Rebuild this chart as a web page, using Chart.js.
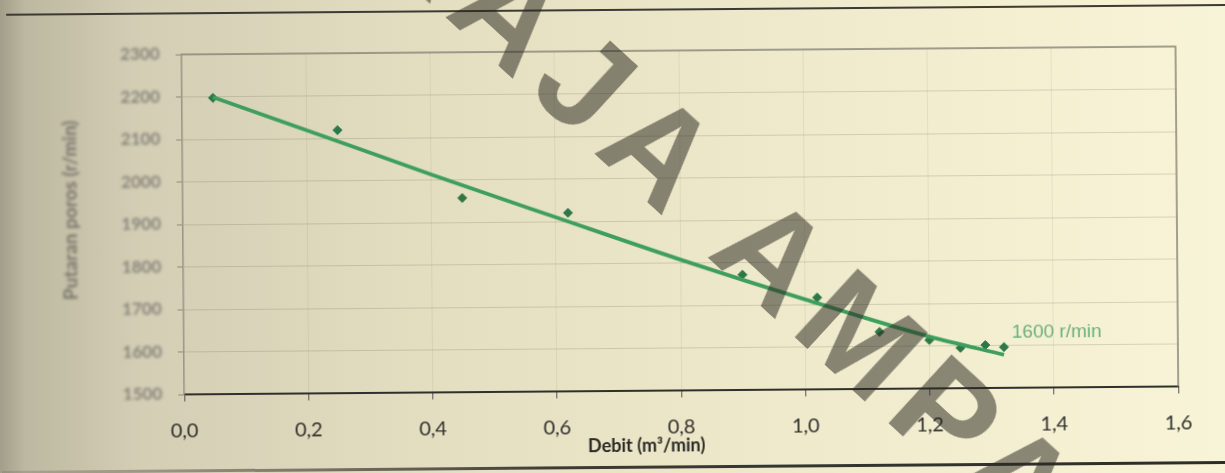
<!DOCTYPE html>
<html>
<head>
<meta charset="utf-8">
<script src="https://cdn.jsdelivr.net/npm/chart.js@4"></script>
<style>
  html, body { margin: 0; padding: 0; }
  body {
    width: 1225px; height: 473px; overflow: hidden; position: relative;
    background: linear-gradient(to right, #a39e89 0px, #bdb8a1 25px, #d3ceb4 140px, #e5dfc2 450px, #efeacc 800px, #f8f4d7 1225px);
  }
  #photo {
    position: absolute; left: 0; top: 0; width: 1225px; height: 473px;
    transform: rotate(-0.46deg); transform-origin: 612px 236px;
  }
  #topline { position: absolute; left: 8px; right: -10px; top: 9px; height: 2px; background: #3b3a33; }
  #bottomline { position: absolute; left: 0; right: -10px; top: 466px; height: 3px;
    background: linear-gradient(to right, rgba(60,58,50,0.15), rgba(40,40,36,0.9) 45%, #2c2c28); }
  #wrap { position: absolute; left: 0; top: 0; width: 1225px; height: 473px; }
  #mark {
    position: absolute; left: 756px; top: 238px; width: 1400px; margin-left: -700px;
    text-align: center; line-height: 1; white-space: nowrap;
    font-family: "Liberation Sans", Arial, sans-serif; font-weight: bold; font-size: 136px;
    letter-spacing: 14px; text-indent: 14px; color: rgba(40,38,30,0.52);
    transform: translateY(-50%) rotate(42.5deg); pointer-events: none;
  }
</style>
</head>
<body>
<div id="photo">
  <div id="topline"></div>
  <div id="bottomline"></div>
  <div id="wrap"><canvas id="chart" width="1225" height="473"></canvas></div>
</div>
<div id="mark">RAJA AMPAT</div>
<script>
// measured points, 1600 r/min
const debit = [0.05, 0.25, 0.45, 0.62, 0.90, 1.02, 1.12, 1.20, 1.25, 1.29, 1.32];
const putaran = [2197, 2119, 1957, 1920, 1771, 1716, 1634, 1614, 1595, 1601, 1596];

// trend line
const trendX = [0.05, 0.25, 0.4, 0.6, 0.8, 1.0, 1.2, 1.32];
const trendY = [2199, 2093, 2013, 1910, 1808, 1712, 1622, 1578];

const xTickLabels = ['0,0', '0,2', '0,4', '0,6', '0,8', '1,0', '1,2', '1,4', '1,6'];
const yTickLabels = ['1500', '1600', '1700', '1800', '1900', '2000', '2100', '2200', '2300'];

const seriesLabel = '1600 r/min';
const xTitle = 'Debit (m³/min)';
const yTitle = 'Putaran poros (r/min)';

const pts = debit.map((d, i) => ({ x: d, y: putaran[i] }));
const trend = trendX.map((d, i) => ({ x: d, y: trendY[i] }));

const frame = {
  id: 'frame',
  afterDraw(chart) {
    const { ctx, chartArea: a } = chart;
    ctx.save();
    // top and right border of the plot
    ctx.strokeStyle = '#8a8678';
    ctx.lineWidth = 1.5;
    ctx.beginPath();
    ctx.moveTo(a.left, a.top);
    ctx.lineTo(a.right, a.top);
    ctx.lineTo(a.right, a.bottom);
    ctx.stroke();

    // series label next to the end of the trend line
    const meta = chart.getDatasetMeta(0);
    const last = meta.data[meta.data.length - 1];
    ctx.fillStyle = '#6caf7e';
    ctx.font = '19px "Liberation Sans", Arial, sans-serif';
    ctx.textAlign = 'left';
    ctx.textBaseline = 'middle';
    ctx.fillText(seriesLabel, last.x + 8, last.y - 22);

    // x title
    ctx.fillStyle = '#2a2a26';
    ctx.font = 'bold 18px Lato, sans-serif';
    ctx.textAlign = 'center';
    ctx.fillText(xTitle, (a.left + a.right) / 2 - 35, a.bottom + 55);

    // y tick labels and title are out of focus in the photo
    ctx.filter = 'blur(1.6px)';
    const y = chart.scales.y;
    ctx.fillStyle = '#85827a';
    ctx.font = 'bold 17px Lato, sans-serif';
    ctx.textAlign = 'right';
    yTickLabels.forEach(t => ctx.fillText(t, 161, y.getPixelForValue(+t)));

    ctx.translate(71, (a.top + a.bottom) / 2 - 15);
    ctx.rotate(-Math.PI / 2);
    ctx.textAlign = 'center';
    ctx.fillStyle = '#77746a';
    ctx.font = 'bold 19px Lato, sans-serif';
    ctx.fillText(yTitle, 0, 0);
    ctx.restore();
  }
};

new Chart(document.getElementById('chart'), {
  type: 'scatter',
  data: {
    datasets: [
      {
        type: 'line',
        label: 'trend',
        data: trend,
        borderColor: '#3d9e5e',
        borderWidth: 3.8,
        pointRadius: 0,
        cubicInterpolationMode: 'monotone',
        fill: false
      },
      {
        label: seriesLabel,
        data: pts,
        pointStyle: 'rectRot',
        pointRadius: 4.5,
        backgroundColor: '#2e7747',
        borderColor: '#2e7747'
      }
    ]
  },
  options: {
    responsive: false,
    animation: false,
    layout: { padding: { top: 51, right: 48, left: 0, bottom: 0 } },
    plugins: { legend: { display: false }, tooltip: { enabled: false } },
    scales: {
      x: {
        type: 'linear',
        min: 0, max: 1.6,
        afterFit: s => { s.height = 82; },
        afterBuildTicks: s => { s.ticks = xTickLabels.map((t, i) => ({ value: i * 0.2 })); },
        ticks: {
          padding: 18,
          color: '#2f2f2b',
          font: { family: 'Lato', size: 20 },
          callback: (v, i) => xTickLabels[i]
        },
        grid: { color: 'rgba(120,115,90,0.12)', tickLength: 7, tickColor: '#555' },
        border: { color: '#2f2f2b', width: 2 }
      },
      y: {
        min: 1500, max: 2300,
        afterFit: s => { s.width = 183; },
        afterBuildTicks: s => { s.ticks = yTickLabels.map(t => ({ value: +t })); },
        ticks: { display: false },
        grid: { color: 'rgba(100,95,75,0.22)', tickLength: 6, tickColor: '#8e8a7c' },
        border: { color: '#9a978a', width: 1.5 }
      }
    }
  },
  plugins: [frame]
});
</script>
</body>
</html>
